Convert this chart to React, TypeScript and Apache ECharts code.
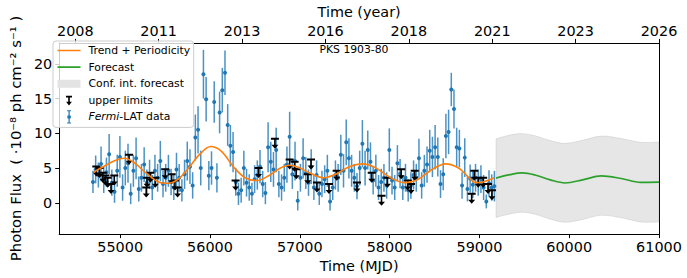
import React, { useEffect, useRef } from 'react';
import * as echarts from 'echarts';

// ---------- data ----------
const detMjd = [
  54697, 54727, 54757, 54787, 54817, 54847, 54877, 54907, 54937, 54967,
  54997, 55027, 55057, 55087, 55117, 55147, 55177, 55207, 55237, 55267,
  55297, 55327, 55357, 55387, 55417, 55447, 55477, 55507, 55537, 55567,
  55597, 55627, 55657, 55687, 55717, 55747, 55777, 55807, 55837, 55867,
  55897, 55927, 55957, 55987, 56017, 56047, 56077, 56107, 56137, 56167,
  56197, 56227, 56257, 56287, 56317, 56347, 56377, 56407, 56437, 56467,
  56497, 56527, 56557, 56587, 56617, 56647, 56677, 56707, 56737, 56767,
  56797, 56827, 56857, 56887, 56917, 56947, 56977, 57007, 57037, 57067,
  57097, 57127, 57157, 57187, 57217, 57247, 57277, 57307, 57337, 57367,
  57397, 57427, 57457, 57487, 57517, 57547, 57577, 57607, 57637, 57667,
  57697, 57727, 57757, 57787, 57817, 57847, 57877, 57907, 57937, 57967,
  57997, 58027, 58057, 58087, 58117, 58147, 58177, 58207, 58237, 58267,
  58297, 58327, 58357, 58387, 58417, 58447, 58477, 58507, 58537, 58567,
  58597, 58627, 58657, 58687, 58717, 58747, 58777, 58807, 58837, 58867,
  58897, 58927, 58957, 58987, 59017, 59047, 59077, 59107, 59137, 59167
];
const detFlux = [
  3.0, 4.8, 4.0, 5.6, 3.3, 4.4, 7.0, 2.9, 1.6, 4.6,
  6.6, 2.2, 5.0, 5.7, 1.3, 4.6, 6.4, 2.0, 3.6, 5.5,
  2.9, 4.1, 2.2, 4.6, 3.6, 6.0, 2.7, 3.6, 4.6, 3.0,
  2.2, 4.8, 3.6, 1.8, 4.1, 6.0, 5.2, 2.5, 9.4, 10.5,
  5.0, 18.5, 14.9, 3.9, 5.0, 14.5, 3.6, 13.0, 16.2, 18.7,
  11.2, 8.2, 7.3, 3.0, 1.3, 1.8, 5.0, 2.9, 2.2, 1.3,
  3.4, 4.0, 5.2, 2.7, 1.4, 8.0, 5.9, 4.8, 7.6, 2.7,
  2.2, 3.6, 5.5, 9.5, 4.1, 6.0, 0.3, 3.6, 6.4, 4.3,
  2.9, 5.2, 2.2, 4.0, 1.3, 2.7, 3.4, 4.6, 0.2, 2.2,
  4.0, 3.6, 6.9, 4.6, 8.7, 6.4, 4.6, 3.6, 2.4, 5.0,
  8.5, 5.0, 7.6, 5.9, 3.2, 4.6, 2.2, 3.0, 3.6, 2.5,
  7.6, 3.2, 2.2, 5.7, 4.2, 2.2, 3.6, 1.8, 2.5, 4.0,
  3.6, 6.4, 2.5, 4.6, 5.5, 7.5, 6.6, 8.0, 6.6, 2.7,
  4.1, 9.6, 10.2, 16.3, 13.5, 8.0, 7.8, 2.5, 6.5, 2.0,
  3.5, 2.6, 3.6, 2.9, 3.4, 2.2, 0.2, 2.8, 2.2, 2.4
];
const detErr = [
  1.6, 2.0, 1.8, 2.5, 1.9, 2.1, 2.9, 1.9, 1.6, 2.3,
  3.0, 1.9, 2.5, 2.8, 1.5, 2.3, 3.0, 1.8, 2.0, 2.5,
  1.9, 2.1, 1.8, 2.3, 2.0, 2.9, 1.9, 2.0, 2.3, 1.9,
  1.8, 2.4, 2.0, 1.6, 2.1, 2.8, 2.5, 1.9, 3.3, 3.4,
  2.5, 3.5, 3.2, 2.1, 2.4, 3.0, 2.1, 3.0, 3.2, 3.2,
  3.0, 3.0, 2.9, 2.0, 1.6, 1.8, 2.5, 2.0, 1.9, 1.6,
  2.0, 2.1, 2.4, 1.9, 1.6, 3.6, 2.9, 2.5, 3.2, 1.9,
  1.9, 2.0, 2.6, 3.6, 2.1, 2.8, 1.4, 2.0, 2.9, 2.3,
  1.9, 2.5, 1.8, 2.1, 1.6, 1.9, 2.0, 2.3, 1.3, 1.8,
  2.1, 2.0, 2.9, 2.4, 3.3, 2.9, 2.3, 2.0, 1.9, 2.5,
  3.4, 2.5, 2.8, 2.8, 2.0, 2.3, 1.8, 1.9, 2.0, 1.9,
  3.1, 2.0, 1.8, 2.6, 2.1, 1.8, 2.0, 1.6, 1.9, 2.1,
  2.0, 2.8, 1.9, 2.3, 2.6, 3.0, 2.9, 3.2, 2.8, 2.0,
  2.3, 3.2, 3.2, 2.4, 2.8, 2.8, 2.7, 1.9, 2.8, 1.8,
  2.0, 1.9, 2.0, 1.9, 2.0, 1.8, 1.0, 1.9, 1.9, 2.2
];

const ulMjd = [
  54734, 54770, 54806, 54836, 54861, 54898, 54934, 55099, 55290, 55299,
  55336, 55391, 55501, 55573, 55610, 55639, 56285, 56541, 56723, 56887,
  56942, 56961, 57089, 57125, 57191, 57325, 57410, 57637, 57801, 57910,
  57976, 58129, 58202, 58239, 58280, 58914, 58943, 58987, 59042, 59096,
  59140
];
const ulFlux = [
  5.2, 5.0, 4.3, 3.9, 3.6, 2.7, 3.9, 6.9, 2.2, 3.6,
  4.3, 3.6, 4.8, 4.1, 3.2, 2.2, 3.2, 5.0, 9.2, 6.2,
  5.9, 4.8, 4.1, 6.2, 2.9, 2.7, 4.6, 2.9, 4.3, 1.0,
  3.6, 4.8, 3.2, 2.7, 4.6, 1.3, 4.6, 3.6, 3.6, 2.7,
  1.8
];

const trendMjd = [
  54704, 54825, 54945, 55044, 55153, 55296, 55427, 55537, 55646, 55756,
  55887, 56008, 56128, 56260, 56391, 56523, 56654, 56785, 56884, 56983,
  57125, 57267, 57399, 57552, 57694, 57837, 58001, 58165, 58308, 58472,
  58625, 58768, 58878, 58954, 59042, 59162
];
const trendFlux = [
  4.4, 5.3, 6.1, 6.4, 5.8, 4.2, 3.0, 2.8, 3.4, 4.9,
  7.0, 8.1, 7.4, 5.2, 3.6, 3.2, 3.9, 5.0, 5.4, 5.1,
  4.2, 3.6, 4.1, 5.2, 5.6, 5.1, 3.7, 2.9, 3.3, 4.8,
  5.6, 5.0, 3.7, 2.9, 3.0, 3.6
];

const fcMjd = [59185, 59340, 59479, 59620, 59790, 59954, 60150, 60356, 60580, 60794, 61000];
const fcFlux = [3.55, 4.05, 4.3, 4.0, 3.3, 2.86, 3.3, 3.87, 3.5, 2.94, 2.98];
const fcUpper = [9.2, 9.75, 9.95, 9.65, 8.95, 8.55, 9.0, 9.6, 9.25, 8.7, 8.75];
const fcLower = [-2.1, -1.6, -1.35, -1.65, -2.35, -2.8, -2.4, -1.8, -2.15, -2.75, -2.75];

const bottomTicks = [55000, 56000, 57000, 58000, 59000, 60000, 61000];
const yTicks = [0, 5, 10, 15, 20];
const topTickMjd = [54500, 55428.57, 56357.14, 57285.71, 58214.29, 59142.86, 60071.43, 61000];
const topTickLabels = ['2008', '2011', '2013', '2016', '2018', '2021', '2023', '2026'];

// ---------- styles ----------
const FONT = 'DejaVu Sans';
const BLUE = '#1f77b4';
const ORANGE = '#ff7f0e';
const GREEN = '#2ca02c';
const BAND = 'rgba(128,128,128,0.2)';

const ulSymbol = 'path://M0,0h8v2h-3.2v5h2.7l-3.5,4l-3.5,-4h2.7v-5h-3.2z';
const corners = 'M0,0h0.01v0.01h-0.01z M25.99,13.99h0.01v0.01h-0.01z ';
const lineIcon = 'path://' + corners + 'M0,6.2h23v1.6h-23z';
const bandIcon = 'path://' + corners + 'M0,3h23v8h-23z';
const ulIcon = 'path://' + corners + 'M8.5,2.5h6v1.6h-2.2v4.4h2.1l-2.9,3.8l-2.9,-3.8h2.1v-4.4h-2.2z';
const dataIcon = 'path://' + corners +
  'M11,0.6h1.2v4.5h-1.2z M11,8.9h1.2v4.5h-1.2z M9.6,0.3h4v1h-4z M9.6,12.7h4v1h-4z ' +
  'M9.7,7a1.9,1.9 0 1,0 3.8,0a1.9,1.9 0 1,0 -3.8,0z';

const axisLineCfg = { show: true, onZero: false, lineStyle: { color: '#000', width: 1 } };
const tickCfg = { show: true, length: 4, lineStyle: { color: '#000', width: 1 } };
const labelBase = { color: '#000', fontFamily: FONT, fontSize: 14.4 };
const nameStyle = { color: '#000', fontFamily: FONT, fontSize: 14.4 };

// Catmull-Rom style cubic segments through pixel points (drawing only)
function curveThrough(pts: number[][]): string {
  let d = '';
  for (let i = 0; i < pts.length - 1; i++) {
    const p0 = pts[Math.max(0, i - 1)];
    const p1 = pts[i];
    const p2 = pts[i + 1];
    const p3 = pts[Math.min(pts.length - 1, i + 2)];
    const c1x = p1[0] + (p2[0] - p0[0]) / 6;
    const c1y = p1[1] + (p2[1] - p0[1]) / 6;
    const c2x = p2[0] - (p3[0] - p1[0]) / 6;
    const c2y = p2[1] - (p3[1] - p1[1]) / 6;
    d += ` C${c1x.toFixed(2)},${c1y.toFixed(2)} ${c2x.toFixed(2)},${c2y.toFixed(2)} ${p2[0].toFixed(2)},${p2[1].toFixed(2)}`;
  }
  return d;
}

export default function App() {
  const ref = useRef<HTMLDivElement>(null);

  useEffect(() => {
    if (!ref.current) return;
    const chart = echarts.init(ref.current, undefined, { renderer: 'svg' });

    const detections = detMjd.map((m, i) => [m, detFlux[i], detErr[i]]);
    const uls = ulMjd.map((m, i) => [m, ulFlux[i]]);

    const option: any = {
      animation: false,
      grid: { left: 49, right: 28, top: 36, bottom: 42, containLabel: false },
      xAxis: [
        {
          type: 'value', position: 'bottom', min: 54321, max: 61000,
          name: 'Time (MJD)', nameLocation: 'middle', nameGap: 22, nameTextStyle: nameStyle,
          axisLine: axisLineCfg,
          axisTick: { ...tickCfg, customValues: bottomTicks },
          axisLabel: { ...labelBase, margin: 6, customValues: bottomTicks, formatter: (v: number) => String(v) },
          splitLine: { show: false },
        },
        {
          type: 'value', position: 'top', min: 54321, max: 61000,
          name: 'Time (year)', nameLocation: 'middle', nameGap: 20, nameTextStyle: nameStyle,
          axisLine: axisLineCfg,
          axisTick: { ...tickCfg, customValues: topTickMjd },
          axisLabel: {
            ...labelBase, margin: 5, customValues: topTickMjd,
            formatter: (v: number) => {
              const i = topTickMjd.findIndex((t) => Math.abs(t - v) < 0.5);
              return i >= 0 ? topTickLabels[i] : '';
            },
          },
          splitLine: { show: false },
        },
      ],
      yAxis: [
        {
          type: 'value', position: 'left', min: -4.5, max: 23,
          name: 'Photon Flux  ( ·10⁻⁸ ph cm⁻² s⁻¹ )', nameLocation: 'middle', nameGap: 27,
          nameTextStyle: { ...nameStyle, fontSize: 14.8 },
          axisLine: axisLineCfg,
          axisTick: { ...tickCfg, customValues: yTicks },
          axisLabel: { ...labelBase, margin: 7, customValues: yTicks },
          splitLine: { show: false },
        },
        {
          type: 'value', position: 'right', min: -4.5, max: 23,
          axisLine: axisLineCfg,
          axisTick: { show: false },
          axisLabel: { show: false },
          splitLine: { show: false },
        },
      ],
      legend: {
        show: true,
        left: 53, top: 41,
        orient: 'vertical',
        itemWidth: 26, itemHeight: 14, itemGap: 2.6,
        padding: [2.5, 3.5, 3.5, 4.5],
        backgroundColor: 'rgba(255,255,255,0.8)',
        borderColor: '#cccccc', borderWidth: 1, borderRadius: 3,
        selectedMode: false,
        textStyle: {
          fontFamily: FONT, fontSize: 10.8, color: '#000',
          rich: {
            it: { fontFamily: FONT, fontSize: 10.8, color: '#000', fontStyle: 'italic' },
            n: { fontFamily: FONT, fontSize: 10.8, color: '#000' },
          },
        },
        formatter: (name: string) => (name === 'Fermi-LAT data' ? '{it|Fermi}{n|-LAT data}' : name),
        data: [
          { name: 'Trend + Periodicity', icon: lineIcon, itemStyle: { color: ORANGE, borderWidth: 0, opacity: 1 } },
          { name: 'Forecast', icon: lineIcon, itemStyle: { color: GREEN, borderWidth: 0, opacity: 1 } },
          { name: 'Conf. int. forecast', icon: bandIcon, itemStyle: { color: '#e3e3e3', borderWidth: 0, opacity: 1 } },
          { name: 'upper limits', icon: ulIcon, itemStyle: { color: '#000', borderWidth: 0, opacity: 1 } },
          { name: 'Fermi-LAT data', icon: dataIcon, itemStyle: { color: BLUE, borderWidth: 0, opacity: 1 } },
        ],
      },
      graphic: [
        {
          type: 'text', x: 354, y: 49, z: 10,
          style: {
            text: 'PKS 1903-80', fill: '#000', fontFamily: FONT, fontSize: 10.8,
            align: 'center', verticalAlign: 'middle', textAlign: 'center', textVerticalAlign: 'middle',
          },
        },
      ],
      series: [
        {
          name: 'Conf. int. forecast', type: 'custom',
          data: [[fcMjd[0], fcUpper[0]]], encode: { x: 0, y: 1 }, silent: true, z: 1,
          itemStyle: { color: '#e3e3e3' },
          renderItem: (params: any, api: any) => {
            const up = fcMjd.map((m, i) => api.coord([m, fcUpper[i]]));
            const lo = fcMjd.map((m, i) => api.coord([m, fcLower[i]])).reverse();
            const d =
              `M${up[0][0].toFixed(2)},${up[0][1].toFixed(2)}` + curveThrough(up) +
              ` L${lo[0][0].toFixed(2)},${lo[0][1].toFixed(2)}` + curveThrough(lo) + ' Z';
            return {
              type: 'path',
              shape: { pathData: d },
              style: { fill: BAND, stroke: 'rgba(128,128,128,0.22)', lineWidth: 0.8 },
            };
          },
        },
        {
          type: 'custom', data: detections, encode: { x: 0, y: 1 }, silent: true, z: 2,
          renderItem: (params: any, api: any) => {
            const x = api.value(0);
            const y = api.value(1);
            const e = api.value(2);
            const p1 = api.coord([x, y - e]);
            const p2 = api.coord([x, y + e]);
            return {
              type: 'line',
              shape: { x1: p1[0], y1: p1[1], x2: p2[0], y2: p2[1] },
              style: { stroke: BLUE, lineWidth: 1.5, opacity: 0.8 },
            };
          },
        },
        {
          name: 'Fermi-LAT data', type: 'scatter', data: detections.map((d) => [d[0], d[1]]),
          symbol: 'circle', symbolSize: 4, itemStyle: { color: BLUE, opacity: 1 }, silent: true, z: 3,
        },
        {
          name: 'upper limits', type: 'scatter', data: uls,
          symbol: ulSymbol, symbolSize: [8, 11], symbolOffset: [0, '40%'],
          itemStyle: { color: '#000', opacity: 1 }, silent: true, z: 4,
        },
        {
          name: 'Trend + Periodicity', type: 'line', data: trendMjd.map((m, i) => [m, trendFlux[i]]),
          symbol: 'none', smooth: 0.35, lineStyle: { color: ORANGE, width: 1.6 },
          itemStyle: { color: ORANGE }, silent: true, z: 5,
        },
        {
          name: 'Forecast', type: 'line', data: fcMjd.map((m, i) => [m, fcFlux[i]]),
          symbol: 'none', smooth: 0.35, lineStyle: { color: GREEN, width: 1.6 },
          itemStyle: { color: GREEN }, silent: true, z: 5,
        },
      ],
    };

    chart.setOption(option);
    return () => chart.dispose();
  }, []);

  return (
    <div
      ref={ref}
      style={{ position: 'fixed', left: 0, top: 0, width: 687, height: 278, background: '#fff' }}
    />
  );
}
